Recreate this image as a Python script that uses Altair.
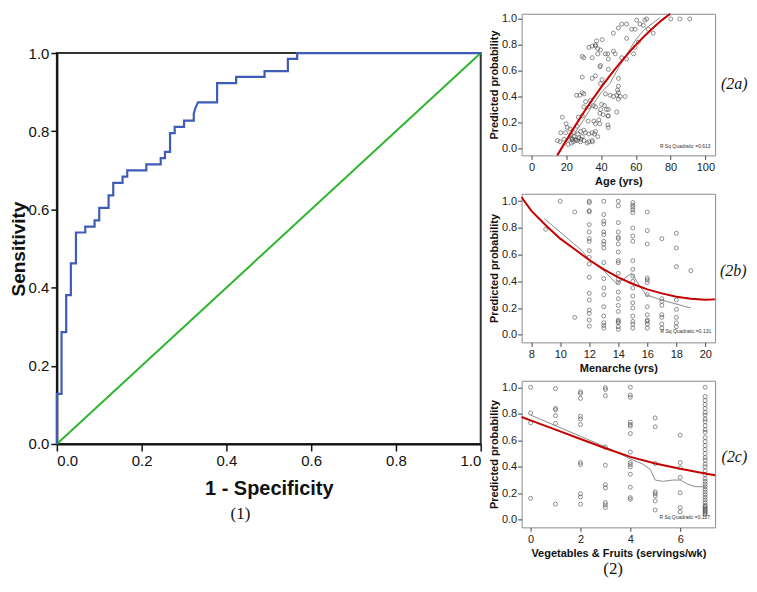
import altair as alt
import pandas as pd

SANS = "Liberation Sans"
SERIF = "Liberation Serif"

# ---------------- (1) ROC curve ----------------
roc_fpr = [0.0, 0.0, 0.011, 0.011, 0.022, 0.022, 0.033, 0.033, 0.045, 0.045,
           0.067, 0.067, 0.089, 0.089, 0.100, 0.100, 0.122, 0.122, 0.133, 0.133,
           0.155, 0.155, 0.166, 0.166, 0.211, 0.211, 0.245, 0.245, 0.255, 0.255,
           0.267, 0.267, 0.278, 0.278, 0.300, 0.300, 0.323, 0.323, 0.327, 0.333,
           0.378, 0.378, 0.423, 0.423, 0.490, 0.490, 0.545, 0.545, 0.567, 0.567,
           1.0]
roc_tpr = [0.0, 0.128, 0.128, 0.286, 0.286, 0.381, 0.381, 0.462, 0.462, 0.541,
           0.541, 0.556, 0.556, 0.572, 0.572, 0.604, 0.604, 0.636, 0.636, 0.668,
           0.668, 0.684, 0.684, 0.700, 0.700, 0.715, 0.715, 0.731, 0.731, 0.747,
           0.747, 0.795, 0.795, 0.811, 0.811, 0.827, 0.827, 0.845, 0.860, 0.874,
           0.874, 0.923, 0.923, 0.939, 0.939, 0.954, 0.954, 0.985, 0.985, 1.0,
           1.0]
diag_x = [0.0, 1.0]
diag_y = [0.0, 1.0]
unit_ticks = [0.0, 0.2, 0.4, 0.6, 0.8, 1.0]
# figure caption "(1)" placed below the ROC x-axis title (ROC data units)
cap1_text = ["(1)"]
cap1_x = [0.433]
cap1_y = [-0.179]

# ---------------- (2a) Age ----------------
age_vals = [17.7, 19.9, 20.6, 16.8, 19.6, 14.9, 16.4, 18.7, 22.1, 24.4,
            22.9, 24.4, 21.6, 25.4, 27.3, 29.2, 26.7, 28.2, 30.1, 26.3,
            26.9, 29.2, 25.4, 28.2, 30.1, 32.0, 34.9, 33.0, 34.9, 36.8,
            36.2, 38.1, 32.6, 35.9, 36.8, 38.7, 39.3, 30.1, 33.0, 31.1,
            33.9, 35.5, 36.8, 39.3, 39.7, 40.3, 42.0, 43.1, 41.2, 43.9,
            43.9, 44.1, 25.9, 27.8, 29.2, 30.1, 29.2, 34.9, 36.8, 39.7,
            40.6, 42.5, 39.7, 39.3, 29.2, 30.1, 34.9, 38.1, 42.5, 43.9,
            33.0, 34.9, 36.8, 38.1, 39.7, 37.4, 40.6, 36.8, 44.2, 47.1,
            50.0, 51.9, 54.7, 57.6, 59.6, 60.5, 62.4, 64.3, 65.2, 66.2,
            67.2, 70.0, 80.1, 85.3, 91.0, 54.7, 61.4, 59.6, 58.7, 47.1,
            48.1, 44.2, 51.9, 54.7, 50.0, 50.0, 49.5, 50.0, 49.0, 51.0,
            53.8, 47.1, 45.2, 50.0, 49.0, 44.2, 44.2, 21.0, 23.0, 24.0,
            26.5, 22.5, 31.0, 33.0, 35.0, 28.5, 23.5]
age_prob = [0.24, 0.19, 0.16, 0.12, 0.12, 0.06, 0.05, 0.07, 0.15, 0.12,
            0.08, 0.09, 0.07, 0.07, 0.08, 0.09, 0.11, 0.13, 0.14, 0.17,
            0.24, 0.25, 0.06, 0.05, 0.06, 0.04, 0.06, 0.11, 0.12, 0.13,
            0.11, 0.09, 0.21, 0.21, 0.19, 0.22, 0.19, 0.32, 0.32, 0.36,
            0.37, 0.33, 0.32, 0.27, 0.30, 0.34, 0.33, 0.30, 0.26, 0.25,
            0.18, 0.16, 0.41, 0.41, 0.43, 0.42, 0.55, 0.54, 0.56, 0.50,
            0.53, 0.42, 0.64, 0.63, 0.71, 0.70, 0.70, 0.73, 0.73, 0.73,
            0.78, 0.79, 0.79, 0.77, 0.76, 0.83, 0.84, 0.80, 0.69, 0.89,
            0.93, 0.96, 0.96, 0.92, 0.92, 0.99, 0.96, 0.95, 0.99, 1.00,
            0.92, 0.89, 1.00, 1.00, 1.00, 0.85, 0.82, 0.78, 0.73, 0.75,
            0.73, 0.61, 0.70, 0.69, 0.54, 0.48, 0.45, 0.43, 0.41, 0.40,
            0.40, 0.40, 0.41, 0.38, 0.28, 0.30, 0.25, 0.03, 0.04, 0.05,
            0.06, 0.10, 0.12, 0.05, 0.05, 0.07, 0.07]
age_fit_x = [14.8, 20, 25, 30, 35, 40, 45, 50, 55, 60, 65, 70, 75, 79.8]
age_fit_y = [-0.055, 0.061, 0.171, 0.276, 0.376, 0.471, 0.560, 0.645,
             0.724, 0.799, 0.868, 0.932, 0.991, 1.040]
age_loess_x = [21, 25, 30, 35, 40, 45, 50, 55, 60, 65, 70, 74]
age_loess_y = [0.07, 0.12, 0.22, 0.33, 0.43, 0.50, 0.62, 0.73, 0.84, 0.92, 0.97, 1.01]

# ---------------- (2b) Menarche ----------------
men_levels = [9, 10, 11, 12, 13, 14, 15, 16, 17, 18, 19]
men_probs = [
    [0.79],
    [1.0],
    [0.92, 0.13],
    [1.0, 0.99, 0.93, 0.92, 0.825, 0.77, 0.72, 0.70, 0.63, 0.58, 0.53, 0.43,
     0.31, 0.26, 0.185, 0.16, 0.11, 0.064],
    [1.0, 0.90, 0.85, 0.83, 0.77, 0.75, 0.70, 0.68, 0.65, 0.54, 0.42, 0.35,
     0.30, 0.21, 0.14, 0.09, 0.07, 0.05],
    [1.0, 0.965, 0.84, 0.77, 0.73, 0.72, 0.68, 0.62, 0.555, 0.54, 0.46, 0.415,
     0.39, 0.32, 0.27, 0.22, 0.175, 0.11, 0.10, 0.09, 0.06, 0.04],
    [0.99, 0.97, 0.955, 0.935, 0.915, 0.80, 0.74, 0.70, 0.555, 0.49, 0.44,
     0.40, 0.35, 0.29, 0.24, 0.20, 0.14, 0.10, 0.08, 0.05],
    [0.92, 0.78, 0.68, 0.425, 0.41, 0.39, 0.30, 0.21, 0.15, 0.11, 0.10, 0.08, 0.05],
    [0.72, 0.27, 0.25, 0.22, 0.15, 0.13, 0.08, 0.05],
    [0.76, 0.65, 0.51, 0.26, 0.19, 0.13, 0.09, 0.06],
    [0.48],
]
men_fit_x = [7.34, 8, 9, 10, 11, 12, 13, 14, 15, 16, 17, 18, 19, 20, 20.67]
men_fit_y = [1.03, 0.93, 0.82, 0.72, 0.64, 0.56, 0.49, 0.43, 0.38, 0.34,
             0.31, 0.285, 0.27, 0.263, 0.265]
men_loess_x = [8.9, 11.5, 12.0, 13.0, 13.9, 14.9, 15.9, 17.0, 19.0]
men_loess_y = [0.87, 0.63, 0.56, 0.48, 0.38, 0.46, 0.30, 0.26, 0.20]

# ---------------- (2c) Vegetables & Fruits ----------------
veg_levels = [0, 1, 2, 3, 4, 5, 6, 7]
veg_probs = [
    [1.0, 0.806, 0.732, 0.162],
    [0.99, 0.84, 0.83, 0.786, 0.727, 0.118],
    [0.965, 0.953, 0.916, 0.781, 0.761, 0.719, 0.432, 0.417, 0.197, 0.172, 0.118],
    [0.997, 0.983, 0.936, 0.548, 0.412, 0.265, 0.241, 0.130, 0.113, 0.093],
    [1.0, 0.941, 0.924, 0.737, 0.719, 0.707, 0.651, 0.511, 0.432, 0.417, 0.400,
     0.344, 0.246, 0.167, 0.155],
    [0.769, 0.702, 0.425, 0.211, 0.197, 0.180, 0.143, 0.074],
    [0.639, 0.432, 0.393, 0.320, 0.204, 0.093, 0.061],
    [1.0, 0.93, 0.90, 0.87, 0.84, 0.81, 0.79, 0.76, 0.74, 0.71, 0.68, 0.66,
     0.62, 0.59, 0.56, 0.53, 0.50, 0.47, 0.45, 0.42, 0.40, 0.37, 0.34, 0.31,
     0.29, 0.27, 0.25, 0.23, 0.21, 0.19, 0.17, 0.15, 0.13, 0.11, 0.10, 0.09,
     0.08, 0.07, 0.06, 0.05, 0.04],
]
veg_fit_x = [-0.36, 0, 1, 2, 3, 4, 5, 6, 7, 7.4]
veg_fit_y = [0.776, 0.75, 0.68, 0.61, 0.54, 0.475, 0.425, 0.385, 0.35, 0.336]
veg_loess_x = [0, 1, 2, 3, 4, 4.5, 4.8, 5.0, 5.3, 5.7, 6.0, 6.3, 6.6, 7.0]
veg_loess_y = [0.79, 0.71, 0.63, 0.55, 0.46, 0.42, 0.38, 0.30, 0.29, 0.30,
               0.30, 0.27, 0.25, 0.25]

# panel tags, placed just right of each panel (data units of that panel)
tag_text = ["(2a)", "(2b)", "(2c)"]
tag_x = [109.0, 21.0, 7.66]
tag_y = [0.50, 0.48, 0.47]
# figure caption "(2)" placed below panel 2c (2c data units)
cap2_text = ["(2)"]
cap2_x = [3.31]
cap2_y = [-0.37]


def flatten(levels, groups):
    xs, ys = [], []
    for lv, vals in zip(levels, groups):
        for v in vals:
            xs.append(lv)
            ys.append(v)
    return xs, ys


def text_layer(xs, ys, texts, X, Y, **kw):
    df = pd.DataFrame({"x": xs, "y": ys, "t": texts})
    return alt.Chart(df).mark_text(**kw).encode(x=X, y=Y, text="t:N")


def panel(px, py, fx, fy, lx, ly, xdom, ydom, xticks, xtitle, k, rsq,
          rsq_x, rsq_y, h, extra=None):
    pts = pd.DataFrame({"x": px, "y": py})
    fit = pd.DataFrame({"x": fx, "y": fy, "o": list(range(len(fx)))})
    lo = pd.DataFrame({"x": lx, "y": ly, "o": list(range(len(lx)))})
    X = alt.X("x:Q", scale=alt.Scale(domain=xdom, nice=False, zero=False),
              axis=alt.Axis(values=xticks, format="d", title=xtitle, grid=False,
                            domain=False, tickSize=4, tickColor="#444",
                            labelFont=SANS, labelFontSize=11, labelColor="#222",
                            labelPadding=2, titleFont=SANS, titleFontSize=11,
                            titleFontWeight="bold", titleColor="#111",
                            titlePadding=3))
    Y = alt.Y("y:Q", scale=alt.Scale(domain=ydom, nice=False, zero=False),
              axis=alt.Axis(values=unit_ticks, format=".1f",
                            title="Predicted probability", grid=False,
                            domain=False, tickSize=4, tickColor="#444",
                            labelFont=SANS, labelFontSize=11, labelColor="#222",
                            labelPadding=1, titleFont=SANS, titleFontSize=11,
                            titleFontWeight="bold", titleColor="#111",
                            titlePadding=2))
    p = alt.Chart(pts).mark_point(shape="circle", filled=False, size=16,
                                  strokeWidth=0.8, color="#3a3a3a").encode(x=X, y=Y)
    l = alt.Chart(lo).mark_line(color="#8a8a8a", strokeWidth=1).encode(
        x=X, y=Y, order="o:Q")
    f = alt.Chart(fit).mark_line(color="#c40000", strokeWidth=2).encode(
        x=X, y=Y, order="o:Q")
    t = text_layer([rsq_x], [rsq_y], [rsq], X, Y, align="right", baseline="middle",
                   fontSize=5, font=SANS, color="#333")
    g = text_layer([tag_x[k]], [tag_y[k]], [tag_text[k]], X, Y, align="left",
                   baseline="middle", fontSize=16, font=SERIF, fontStyle="italic",
                   color="#111")
    layers = [p, l, f, t, g]
    if extra is not None:
        layers.append(text_layer(extra[0], extra[1], extra[2], X, Y,
                                 align="center", baseline="middle", fontSize=17,
                                 font=SERIF, color="#111"))
    return alt.layer(*layers).properties(
        width=194, height=h,
        view=alt.ViewBackground(stroke="#8c8c8c", strokeWidth=1),
    )


# ROC chart
roc_df = pd.DataFrame({"fpr": roc_fpr, "tpr": roc_tpr, "o": list(range(len(roc_fpr)))})
diag_df = pd.DataFrame({"fpr": diag_x, "tpr": diag_y, "o": [0, 1]})
cap1_df = pd.DataFrame({"fpr": cap1_x, "tpr": cap1_y, "t": cap1_text})
RX = alt.X("fpr:Q", scale=alt.Scale(domain=[0, 1], nice=False),
           axis=alt.Axis(values=unit_ticks, format=".1f", title="1 - Specificity",
                         grid=False, domainColor="#111", domainWidth=2,
                         tickColor="#111", tickWidth=1.5, tickSize=7,
                         labelFont=SANS, labelFontSize=15, labelColor="#111",
                         labelPadding=3, titleFont=SANS, titleFontSize=20,
                         titleFontWeight="bold", titleColor="#111", titlePadding=10))
RY = alt.Y("tpr:Q", scale=alt.Scale(domain=[0, 1], nice=False),
           axis=alt.Axis(values=unit_ticks, format=".1f", title="Sensitivity",
                         grid=False, domainColor="#111", domainWidth=2,
                         tickColor="#111", tickWidth=1.5, tickSize=6,
                         labelFont=SANS, labelFontSize=15, labelColor="#111",
                         labelPadding=2, titleFont=SANS, titleFontSize=19,
                         titleFontWeight="bold", titleColor="#111", titlePadding=0))
roc_line = alt.Chart(roc_df).mark_line(color="#3f5cb8", strokeWidth=2.2).encode(
    x=RX, y=RY, order="o:Q")
diag_line = alt.Chart(diag_df).mark_line(color="#2fb52f", strokeWidth=2).encode(
    x=RX, y=RY, order="o:Q")
cap1 = alt.Chart(cap1_df).mark_text(align="center", baseline="middle", fontSize=17,
                                    font=SERIF, color="#111").encode(
    x=RX, y=RY, text="t:N")
roc_chart = alt.layer(diag_line, roc_line, cap1).properties(
    width=425, height=392,
    view=alt.ViewBackground(stroke="#333", strokeWidth=2),
)

spacer = alt.Chart(pd.DataFrame({"s": [0]})).mark_point(opacity=0, size=1).properties(
    width=425, height=1, view=alt.ViewBackground(stroke="transparent"))

bx, by = flatten(men_levels, men_probs)
cx, cy = flatten(veg_levels, veg_probs)

pa = panel(age_vals, age_prob, age_fit_x, age_fit_y, age_loess_x, age_loess_y,
           [-5.7, 105.6], [-0.055, 1.04], [0, 20, 40, 60, 80, 100], "Age (yrs)",
           0, "R Sq Quadratic =0.613", 103, 0.02, 142)
pb = panel(bx, by, men_fit_x, men_fit_y, men_loess_x, men_loess_y,
           [7.34, 20.67], [-0.057, 1.056], [8, 10, 12, 14, 16, 18, 20],
           "Menarche (yrs)", 1, "R Sq Quadratic =0.131", 20.4, 0.03, 149)
pc = panel(cx, cy, veg_fit_x, veg_fit_y, veg_loess_x, veg_loess_y,
           [-0.36, 7.4], [-0.057, 1.049], [0, 2, 4, 6],
           "Vegetables & Fruits (servings/wk)", 2, "R Sq Quadratic =0.127",
           7.2, 0.02, 147, extra=(cap2_x, cap2_y, cap2_text))

left = alt.vconcat(spacer, roc_chart, spacing=38.4, bounds="flush")
right = alt.vconcat(pa, pb, pc, spacing=38.5, bounds="flush")
chart = alt.hconcat(left, right, spacing=1, bounds="full", padding=0)

chart.save("out.html", embed_options={"renderer": "svg", "actions": False})
